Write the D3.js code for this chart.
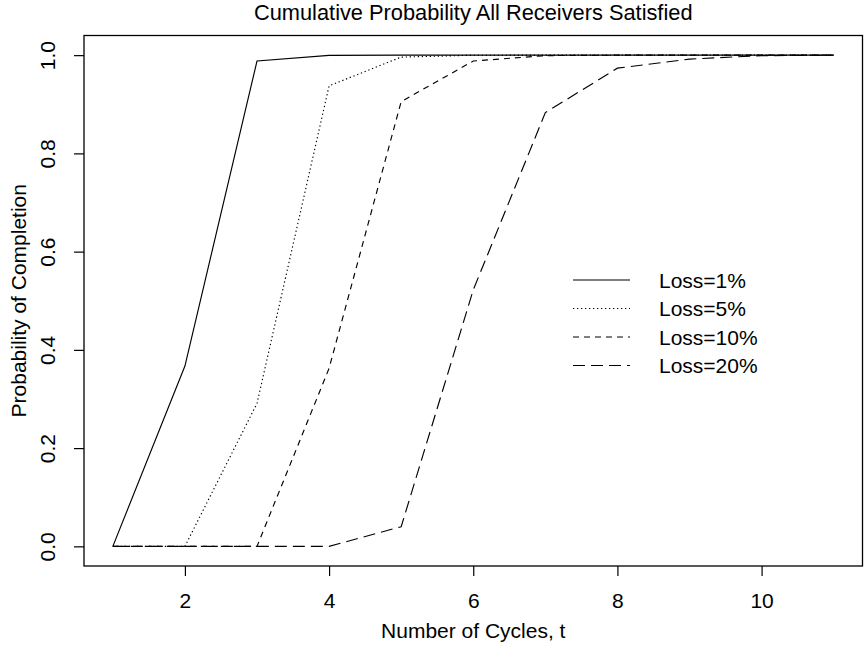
<!DOCTYPE html>
<html>
<head>
<meta charset="utf-8">
<script src="https://cdn.jsdelivr.net/npm/d3@7"></script>
<style>
  body { margin: 0; background: #fff; }
  svg text { font-family: "Liberation Sans", Arial, Helvetica, sans-serif; fill: #000; }
</style>
</head>
<body>
<svg id="chart" width="866" height="645"></svg>
<script>
// cycles t on the x axis
var cycles = [1, 2, 3, 4, 5, 6, 7, 8, 9, 10, 11];

// cumulative probability, one array per loss rate
var loss1  = [0, 0.367, 0.988, 0.9995, 1, 1, 1, 1, 1, 1, 1];
var loss5  = [0, 0, 0.291, 0.9375, 0.996, 0.9998, 1, 1, 1, 1, 1];
var loss10 = [0, 0, 0, 0.3625, 0.9055, 0.988, 0.999, 1, 1, 1, 1];
var loss20 = [0, 0, 0, 0, 0.040, 0.522, 0.883, 0.9735, 0.992, 0.999, 1];

var seriesNames = ["Loss=1%", "Loss=5%", "Loss=10%", "Loss=20%"];
var seriesValues = [loss1, loss5, loss10, loss20];
var dashes = ["none", "1.3,2.7", "6,5", "12,6"];

var xTicks = [2, 4, 6, 8, 10];
var yTicks = [0, 0.2, 0.4, 0.6, 0.8, 1.0];

var fontSize = 21;
var svg = d3.select("#chart");

// plot region, R style 4% padding around the data range
var x = d3.scaleLinear().domain([0.6, 11.4]).range([84, 862.5]);
var y = d3.scaleLinear().domain([-0.04, 1.04]).range([566, 35.5]);

var line = d3.line()
  .x(function(d, i) { return x(cycles[i]); })
  .y(function(d) { return y(d); });

for (var i = 0; i < seriesValues.length; i++) {
  svg.append("path")
    .datum(seriesValues[i])
    .attr("fill", "none")
    .attr("stroke", "#000")
    .attr("stroke-width", 1.15)
    .attr("stroke-dasharray", dashes[i])
    .attr("d", line);
}

// box
svg.append("rect")
  .attr("x", x.range()[0])
  .attr("y", y.range()[1])
  .attr("width", x.range()[1] - x.range()[0])
  .attr("height", y.range()[0] - y.range()[1])
  .attr("fill", "none")
  .attr("stroke", "#000")
  .attr("stroke-width", 1.3);

// x axis
var xAxis = svg.append("g")
  .attr("transform", "translate(0," + y.range()[0] + ")")
  .call(d3.axisBottom(x).tickValues(xTicks).tickSize(10).tickPadding(18).tickFormat(d3.format("d")));
xAxis.select(".domain").remove();
xAxis.selectAll(".tick line").attr("stroke", "#000").attr("stroke-width", 1.2);
xAxis.selectAll(".tick text").attr("font-size", fontSize).attr("font-family", null).attr("dy", null).attr("y", 42);

// y axis, labels rotated like R las=0
var yAxis = svg.append("g")
  .attr("transform", "translate(" + x.range()[0] + ",0)")
  .call(d3.axisLeft(y).tickValues(yTicks).tickSize(10).tickFormat(d3.format(".1f")));
yAxis.select(".domain").remove();
yAxis.selectAll(".tick line").attr("stroke", "#000").attr("stroke-width", 1.2);
yAxis.selectAll(".tick text")
  .attr("font-size", fontSize)
  .attr("font-family", null)
  .attr("x", null).attr("dy", null)
  .attr("text-anchor", "middle")
  .attr("transform", "translate(-29,0) rotate(-90)");

// titles
svg.append("text")
  .attr("x", (x.range()[0] + x.range()[1]) / 2)
  .attr("y", 20)
  .attr("text-anchor", "middle")
  .attr("font-size", 21.8)
  .text("Cumulative Probability All Receivers Satisfied");

svg.append("text")
  .attr("x", (x.range()[0] + x.range()[1]) / 2)
  .attr("y", 638)
  .attr("text-anchor", "middle")
  .attr("font-size", fontSize)
  .text("Number of Cycles, t");

svg.append("text")
  .attr("transform", "translate(26," + ((y.range()[0] + y.range()[1]) / 2) + ") rotate(-90)")
  .attr("text-anchor", "middle")
  .attr("font-size", fontSize)
  .text("Probability of Completion");

// legend
var legend = svg.append("g").attr("transform", "translate(573,280)");
for (var j = 0; j < seriesNames.length; j++) {
  legend.append("line")
    .attr("x1", 0).attr("x2", 57)
    .attr("y1", j * 28.5).attr("y2", j * 28.5)
    .attr("stroke", "#000")
    .attr("stroke-width", 1.15)
    .attr("stroke-dasharray", dashes[j]);
  legend.append("text")
    .attr("x", 86)
    .attr("y", j * 28.5 + 7.5)
    .attr("font-size", fontSize)
    .text(seriesNames[j]);
}
</script>
</body>
</html>
